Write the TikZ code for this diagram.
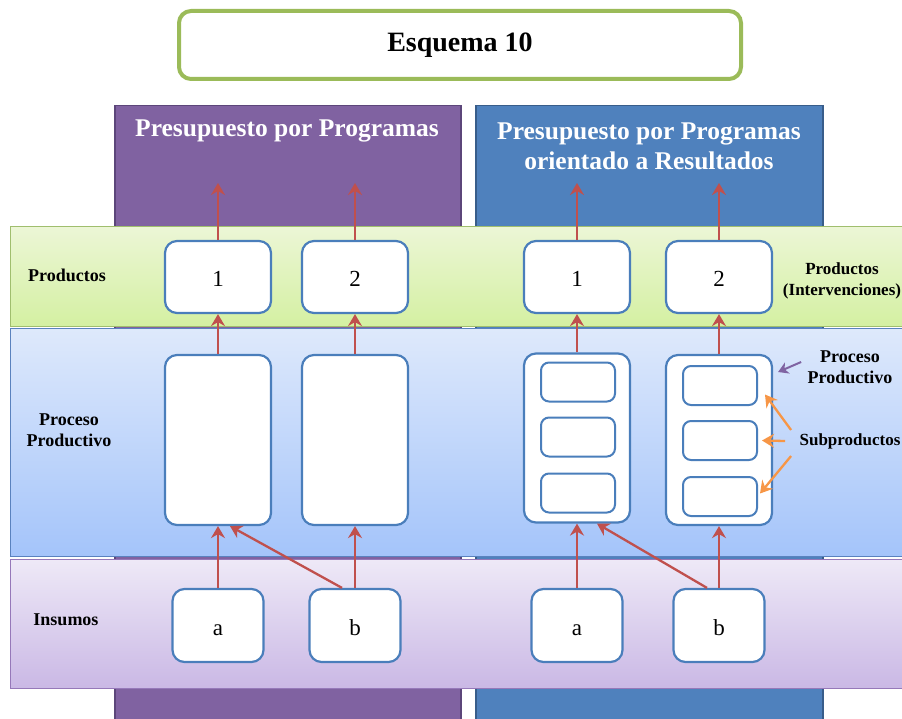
\documentclass[tikz,border=0pt]{standalone}
\usepackage{fontspec}
\setmainfont{Liberation Serif}
\usetikzlibrary{arrows.meta}
\definecolor{purpcol}{RGB}{128,98,161}
\definecolor{purpedge}{RGB}{92,70,122}
\definecolor{bluecol}{RGB}{79,129,189}
\definecolor{blueedge}{RGB}{56,93,138}
\definecolor{boxedge}{RGB}{74,126,187}
\definecolor{arrred}{RGB}{192,80,77}
\definecolor{arrorange}{RGB}{247,150,70}
\definecolor{arrpurple}{RGB}{128,100,162}
\definecolor{titlegreen}{RGB}{155,187,89}
\definecolor{gtop}{RGB}{236,246,214}
\definecolor{gbot}{RGB}{212,240,162}
\definecolor{gedge}{RGB}{160,190,110}
\definecolor{btop}{RGB}{222,233,251}
\definecolor{bbot}{RGB}{164,196,250}
\definecolor{bedge}{RGB}{90,130,190}
\definecolor{ltop}{RGB}{238,233,247}
\definecolor{lbot}{RGB}{202,184,229}
\definecolor{ledge}{RGB}{150,120,185}
\tikzset{
  column/.style={rectangle, draw=#1, line width=1.5pt, inner sep=0pt, anchor=north west},
  band/.style={rectangle, draw=#1, line width=1pt, inner sep=0pt, anchor=north west, minimum width=900pt},
  coltitle/.style={text=white, font=\bfseries\fontsize{25.5}{30}\selectfont, align=center},
  sidelbl/.style={font=\bfseries\fontsize{18}{21}\selectfont, align=center},
  rightlbl/.style={font=\bfseries\fontsize{17}{21}\selectfont, align=center},
  wbox/.style={rectangle, rounded corners=12pt, draw=boxedge, line width=2.2pt, fill=white, inner sep=0pt, text height=22pt, text depth=2pt, font=\fontsize{23}{26}\selectfont},
  sbox/.style={rectangle, rounded corners=8pt, draw=boxedge, line width=2pt, fill=white, inner sep=0pt, minimum width=74pt, minimum height=39pt},
  redarrow/.style={draw=arrred, line width=2.3pt, -{Stealth[length=12pt,width=14pt,inset=4pt]}},
  orarrow/.style={draw=arrorange, line width=2.3pt, -{Stealth[length=12pt,width=14pt,inset=4pt]}},
  pparrow/.style={draw=arrpurple, line width=2pt, -{Stealth[length=10pt,width=12pt,inset=3pt]}}
}
\begin{document}
\begin{tikzpicture}[x=1pt,y=-1pt]
\useasboundingbox (0,0) rectangle (902,719);
\clip (0,0) rectangle (902,719);
\fill[white] (0,0) rectangle (902,719);
% title
\node[rectangle, rounded corners=12pt, draw=titlegreen, line width=4pt, fill=white,
      minimum width=562pt, minimum height=68pt, font=\bfseries\fontsize{28}{32}\selectfont] (title) at (460,45) {Esquema 10};
% columns
\node[column=purpedge, fill=purpcol, minimum width=346pt, minimum height=640pt] (colL) at (114,105) {};
\node[column=blueedge, fill=bluecol, minimum width=347pt, minimum height=640pt] (colR) at (475,105) {};
\node[coltitle] (tL) at (287,131) {Presupuesto por Programas};
\node[coltitle] (tR) at (649,146) {Presupuesto por Programas\\orientado a Resultados};
% bands
\node[band=gedge, top color=gtop, bottom color=gbot, minimum height=100pt] (bandP) at (10,226) {};
\node[band=bedge, top color=btop, bottom color=bbot, minimum height=228pt] (bandQ) at (10,328) {};
\node[band=ledge, top color=ltop, bottom color=lbot, minimum height=129pt] (bandI) at (10,559) {};
% left labels
\node[sidelbl] (lP) at (67,275) {Productos};
\node[sidelbl] (lQ) at (69,430) {Proceso\\Productivo};
\node[sidelbl] (lI) at (66,620) {Insumos};
% right labels
\node[rightlbl] (rP) at (842,281) {Productos\\(Intervenciones)};
\node[sidelbl] (rQ) at (850,367) {Proceso\\Productivo};
\node[rightlbl] (rS) at (850,441) {Subproductos};
% product boxes
\node[wbox, minimum width=106pt, minimum height=72pt] (r1) at (218,277) {1};
\node[wbox, minimum width=106pt, minimum height=72pt] (r2) at (355,277) {2};
\node[wbox, minimum width=106pt, minimum height=72pt] (r3) at (577,277) {1};
\node[wbox, minimum width=106pt, minimum height=72pt] (r4) at (719,277) {2};
% process boxes
\node[wbox, minimum width=106pt, minimum height=170pt] (p1) at (218,440) {};
\node[wbox, minimum width=106pt, minimum height=170pt] (p2) at (355,440) {};
\node[wbox, minimum width=106pt, minimum height=169pt] (p3) at (577,438) {};
\node[wbox, minimum width=106pt, minimum height=170pt] (p4) at (719,440) {};
\node[sbox] (s31) at (578,382) {};
\node[sbox] (s32) at (578,437) {};
\node[sbox] (s33) at (578,493) {};
\node[sbox] (s41) at (720,385.5) {};
\node[sbox] (s42) at (720,440.5) {};
\node[sbox] (s43) at (720,496.5) {};
% input boxes
\node[wbox, minimum width=91pt, minimum height=73pt] (a1) at (218,625.5) {a};
\node[wbox, minimum width=91pt, minimum height=73pt] (b1) at (355,625.5) {b};
\node[wbox, minimum width=91pt, minimum height=73pt] (a2) at (577,625.5) {a};
\node[wbox, minimum width=91pt, minimum height=73pt] (b2) at (719,625.5) {b};
% top coordinates
\coordinate (u1) at (218,183);
\coordinate (u2) at (355,183);
\coordinate (u3) at (577,183);
\coordinate (u4) at (719,183);
% arrows
\draw[redarrow] (r1.north) -- (u1);
\draw[redarrow] (r2.north) -- (u2);
\draw[redarrow] (r3.north) -- (u3);
\draw[redarrow] (r4.north) -- (u4);
\draw[redarrow] (p1.north) -- (r1.south);
\draw[redarrow] (p2.north) -- (r2.south);
\draw[redarrow] (p3.north) -- (r3.south);
\draw[redarrow] (p4.north) -- (r4.south);
\draw[redarrow] (a1.north) -- (p1.south);
\draw[redarrow] (b1.north) -- (p2.south);
\draw[redarrow] (a2.north) -- (p3.south);
\draw[redarrow] (b2.north) -- (p4.south);
\draw[redarrow] ([xshift=-13pt]b1.north) -- ([xshift=12pt]p1.south);
\draw[redarrow] ([xshift=-12pt]b2.north) -- ([xshift=20pt]p3.south);
% purple pointer
\draw[pparrow] ([shift={(-3pt,5pt)}]rQ.west) -- ([shift={(5pt,68pt)}]p4.east);
% orange pointers
\draw[orarrow] ([shift={(-5pt,11pt)}]rS.west) -- ([shift={(7pt,-9pt)}]s41.east);
\draw[orarrow] ([shift={(-11pt,0pt)}]rS.west) -- ([shift={(4pt,0pt)}]s42.east);
\draw[orarrow] ([shift={(-5pt,-15pt)}]rS.west) -- ([shift={(2pt,3pt)}]s43.east);
\end{tikzpicture}
\end{document}
